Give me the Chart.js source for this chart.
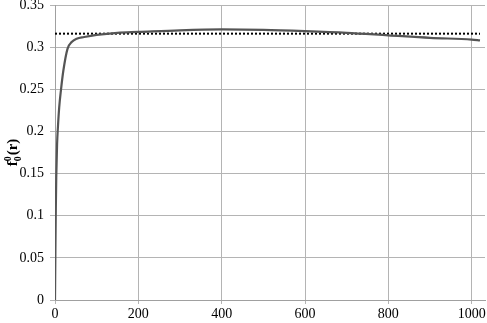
<!DOCTYPE html>
<html><head><meta charset="utf-8">
<script src="https://cdn.jsdelivr.net/npm/chart.js@4"></script>
<style>html,body{margin:0;padding:0;background:#fff}</style>
</head><body>
<canvas id="c" width="487" height="323"></canvas>
<script>
const rValues = [0, 1, 2, 3, 5, 7, 10, 14.5, 20, 30, 40, 52, 70, 100, 150, 200, 300, 400, 500, 600, 700, 800, 900, 1000, 1020];
const fValues = [0, 0.06, 0.11, 0.145, 0.185, 0.205, 0.228, 0.25, 0.272, 0.298, 0.306, 0.310, 0.312, 0.3145, 0.317, 0.318, 0.320, 0.321, 0.3205, 0.319, 0.317, 0.314, 0.311, 0.309, 0.308];
const limitR = [0, 1020];
const limitF = [0.316, 0.316];
const xTicks = [0, 200, 400, 600, 800, 1000];
const yTitle = {base: 'f', sub: '0', sup: '0', rest: '(r)'};
const FAM = "'Liberation Serif', serif";

const titlePlugin = {
  id: 'ytitle',
  afterDraw(chart) {
    const ctx = chart.ctx;
    const a = chart.chartArea;
    ctx.save();
    ctx.translate(17, (a.top + a.bottom) / 2);
    ctx.rotate(-Math.PI / 2);
    ctx.fillStyle = '#000';
    ctx.textBaseline = 'alphabetic';
    const big = 'bold 15px ' + FAM;
    const small = 'bold 10px ' + FAM;
    ctx.font = big; const w1 = ctx.measureText(yTitle.base).width;
    ctx.font = small; const w2 = ctx.measureText(yTitle.sub).width;
    ctx.font = big; const w3 = ctx.measureText(yTitle.rest).width;
    const total = w1 + w2 + 1 + w3;
    let x = -total / 2;
    ctx.font = big; ctx.fillText(yTitle.base, x, 0); x += w1;
    ctx.font = small; ctx.fillText(yTitle.sub, x, 4); ctx.fillText(yTitle.sup, x, -6); x += w2 + 1;
    ctx.font = big; ctx.fillText(yTitle.rest, x, 0);
    ctx.restore();
  }
};

new Chart(document.getElementById('c'), {
  type: 'scatter',
  data: {
    datasets: [
      {
        data: rValues.map((r, i) => ({x: r, y: fValues[i]})),
        showLine: true, borderColor: '#555555', borderWidth: 2.2,
        pointRadius: 0, cubicInterpolationMode: 'monotone', order: 1
      },
      {
        data: limitR.map((r, i) => ({x: r, y: limitF[i]})),
        showLine: true, borderColor: '#000', borderWidth: 2, borderDash: [2, 2],
        pointRadius: 0, order: 2
      }
    ]
  },
  options: {
    responsive: false, animation: false,
    layout: {padding: {top: 5, right: 2, left: 0, bottom: 0}},
    plugins: {legend: {display: false}, tooltip: {enabled: false}},
    scales: {
      x: {
        type: 'linear', min: 0, max: 1032,
        afterBuildTicks(s) { s.ticks = xTicks.map(v => ({value: v})); },
        afterFit(s) { s.height = 23; s.paddingRight = 0; s.paddingLeft = 0; },
        grid: {color: '#b4b4b4', tickLength: 4, lineWidth: 1},
        border: {color: '#a0a0a0'},
        ticks: {color: '#000', font: {family: FAM, size: 14}, padding: 2, maxRotation: 0,
          callback: v => String(v)}
      },
      y: {
        min: 0, max: 0.35,
        ticks: {stepSize: 0.05, color: '#000', font: {family: FAM, size: 14}, padding: 6,
          callback: v => String(Math.round(v * 100) / 100)},
        afterFit(s) { s.width = 55; s.paddingTop = 0; s.paddingBottom = 0; },
        grid: {color: '#b4b4b4', tickLength: 5, lineWidth: 1},
        border: {color: '#a0a0a0'}
      }
    }
  },
  plugins: [titlePlugin]
});
</script>
</body></html>
